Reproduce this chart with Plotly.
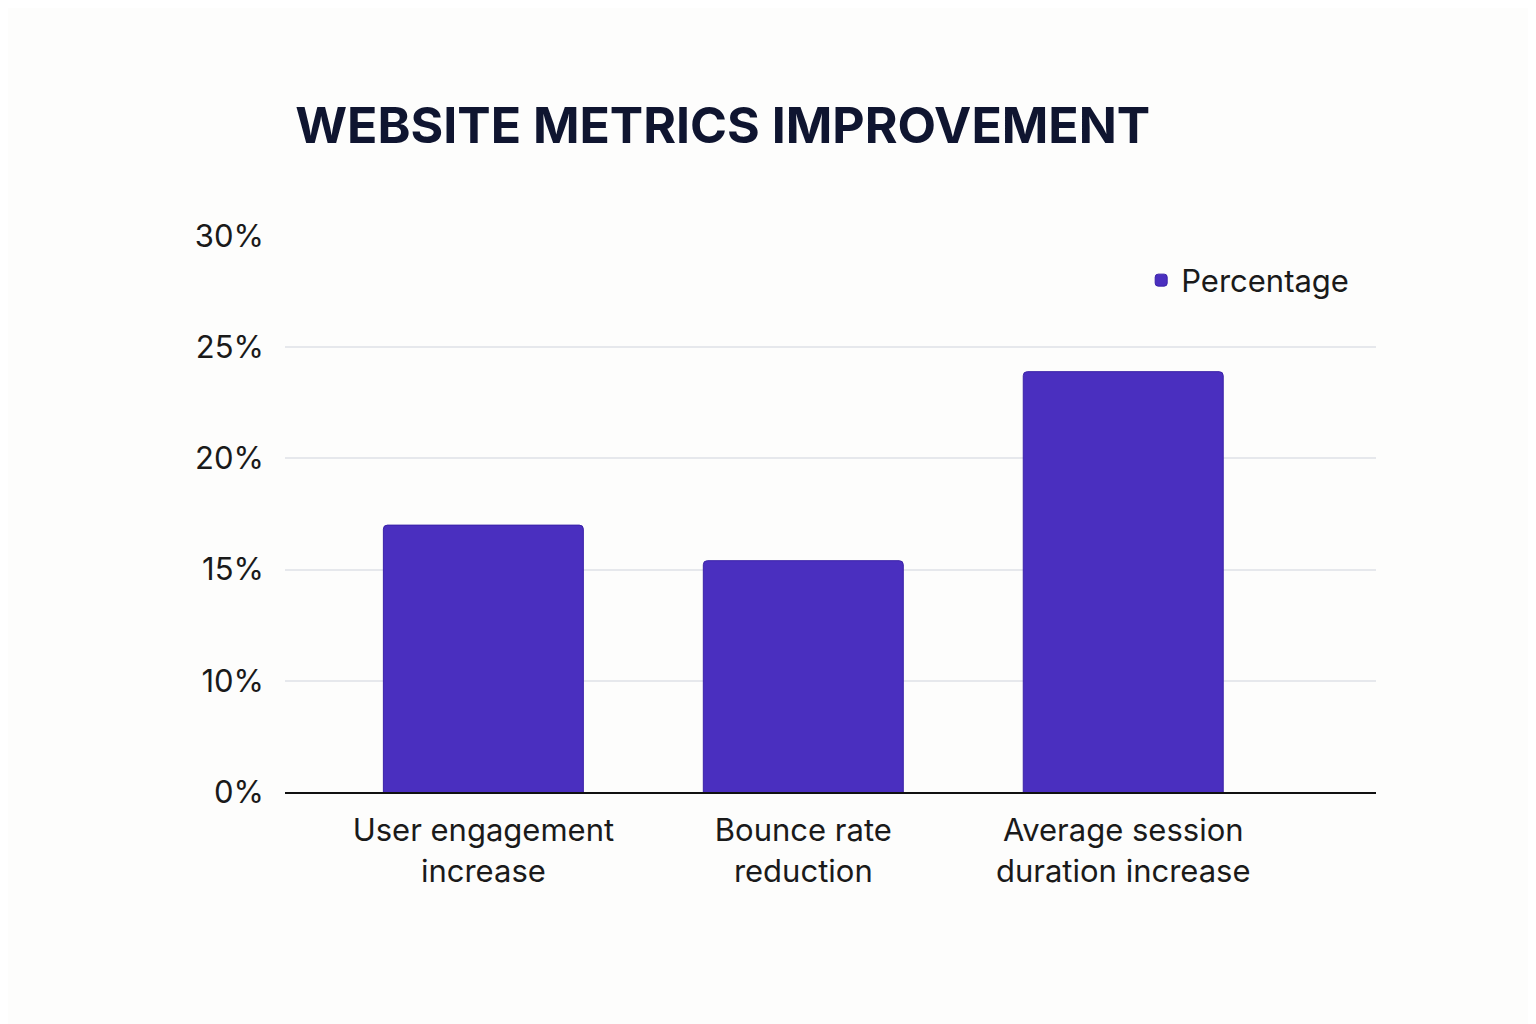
import plotly.graph_objects as go

categories = ["User engagement<br>increase", "Bounce rate<br>reduction", "Average session<br>duration increase"]
values = [17, 15.4, 23.9]
tick_vals = [5, 10, 15, 20, 25, 30]
tick_text = ["0%", "10%", "15%", "20%", "25%", "30%"]

fig = go.Figure(go.Bar(
    x=categories, y=values, name="Percentage",
    marker=dict(color="#4a2fbf", line=dict(color="#3a22a8", width=1), cornerradius=4),
    width=0.625, showlegend=True,
))
fig.update_layout(
    width=1536, height=1024,
    paper_bgcolor="#fdfdfc", plot_bgcolor="#fdfdfc",
    font=dict(family="Inter", color="#1a1a1a", size=31),
    margin=dict(l=277, r=168, t=228, b=240),
    title=dict(text="<b>WEBSITE METRICS IMPROVEMENT</b>", x=0.187, xanchor="left",
               y=0.885, yanchor="middle", font=dict(size=50, color="#0f1530")),
    legend=dict(x=0.98, y=0.92, xanchor="right", yanchor="middle",
                bgcolor="rgba(0,0,0,0)", font=dict(size=31)),
    bargap=0.4,
)
fig.update_yaxes(range=[5, 30], tickvals=tick_vals, ticktext=tick_text,
                 gridcolor="#e6e8ec", gridwidth=2, zeroline=False, ticklen=0,
                 ticklabelstandoff=20, showline=False)
fig.update_xaxes(range=[-0.62, 2.79], showline=True, linecolor="#111111", linewidth=2,
                 ticks="", ticklabelstandoff=10)
fig.write_html("out.html")
